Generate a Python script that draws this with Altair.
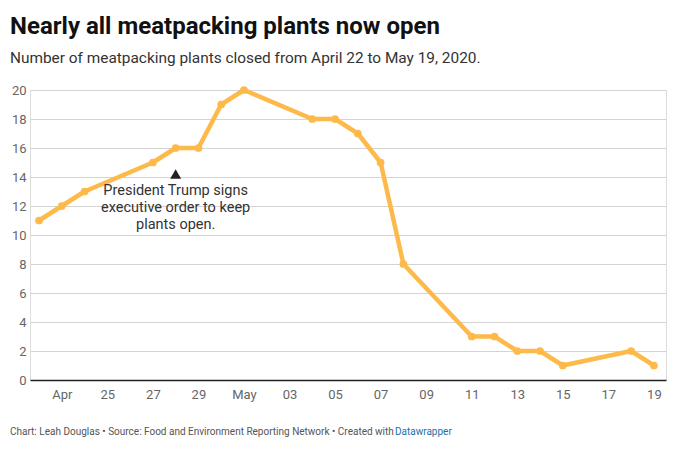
import altair as alt
import pandas as pd

# ---- data ----
dates = ["2020-04-22", "2020-04-23", "2020-04-24", "2020-04-27", "2020-04-28",
         "2020-04-29", "2020-04-30", "2020-05-01", "2020-05-04", "2020-05-05",
         "2020-05-06", "2020-05-07", "2020-05-08", "2020-05-11", "2020-05-12",
         "2020-05-13", "2020-05-14", "2020-05-15", "2020-05-18", "2020-05-19"]
closed = [11, 12, 13, 15, 16, 16, 19, 20, 18, 18, 17, 15, 8, 3, 3, 2, 2, 1, 2, 1]

tick_dates = ["2020-04-23", "2020-04-25", "2020-04-27", "2020-04-29", "2020-05-01",
              "2020-05-03", "2020-05-05", "2020-05-07", "2020-05-09", "2020-05-11",
              "2020-05-13", "2020-05-15", "2020-05-17", "2020-05-19"]
tick_labels = ["Apr", "25", "27", "29", "May", "03", "05", "07", "09", "11",
               "13", "15", "17", "19"]
y_ticks = [0, 2, 4, 6, 8, 10, 12, 14, 16, 18, 20]

annot_date = ["2020-04-28"]
annot_marker_y = [14.2]
annot_text_y = [13.5]
annot_text = ["President Trump signs\nexecutive order to keep\nplants open."]

title = "Nearly all meatpacking plants now open"
subtitle = "Number of meatpacking plants closed from April 22 to May 19, 2020."
footer_main = "Chart: Leah Douglas • Source: Food and Environment Reporting Network • Created with"
footer_link = "Datawrapper"

FONT = "Roboto"
W, H = 636, 290
LINE_COLOR = "#FDBA4B"

df = pd.DataFrame({"date": dates, "closed": closed})
ann = pd.DataFrame({"date": annot_date, "my": annot_marker_y,
                    "ty": annot_text_y, "label": annot_text})
foot = pd.DataFrame({"a": [footer_main], "b": [footer_link]})

label_map = "{" + ",".join(f"'{d}':'{l}'" for d, l in zip(tick_dates, tick_labels)) + "}"
label_expr = f"{label_map}[utcFormat(datum.value, '%Y-%m-%d')]"

x_scale = alt.Scale(
    type="utc",
    domain=[alt.DateTime(year=2020, month=4, date=21, hours=14, minutes=30, utc=True),
            alt.DateTime(year=2020, month=5, date=19, hours=12, minutes=45, utc=True)],
)
y_scale = alt.Scale(domain=[0, 20], nice=False)

x_axis = alt.Axis(
    values=[alt.DateTime(year=int(d[:4]), month=int(d[5:7]), date=int(d[8:]), utc=True)
            for d in tick_dates],
    labelExpr=label_expr, title=None, grid=False, ticks=False,
    domain=True, domainColor="#222", domainWidth=1.5,
    labelFont=FONT, labelFontSize=13, labelColor="#666", labelPadding=8,
    labelOverlap=False,
)
y_axis = alt.Axis(
    values=y_ticks, title=None, grid=True, gridColor="#d4d4d4", gridWidth=1,
    ticks=False, domain=False, labelFont=FONT, labelFontSize=13,
    labelColor="#666", labelPadding=4, labelOverlap=False,
)

base = alt.Chart(df)
line = base.mark_line(color=LINE_COLOR, strokeWidth=4.5, strokeJoin="round").encode(
    x=alt.X("date:T", scale=x_scale, axis=x_axis),
    y=alt.Y("closed:Q", scale=y_scale, axis=y_axis),
)
points = base.mark_circle(color=LINE_COLOR, size=60, opacity=1).encode(
    x=alt.X("date:T", scale=x_scale, axis=x_axis),
    y=alt.Y("closed:Q", scale=y_scale, axis=y_axis),
)

marker = alt.Chart(ann).mark_point(shape="triangle-up", filled=True, color="#222",
                                   size=120, opacity=1).encode(
    x=alt.X("date:T", scale=x_scale, axis=x_axis),
    y=alt.Y("my:Q", scale=y_scale, axis=y_axis))
note = alt.Chart(ann).mark_text(font=FONT, fontSize=14.5, color="#333", align="center",
                                baseline="top", lineBreak="\n", lineHeight=17).encode(
    x=alt.X("date:T", scale=x_scale, axis=x_axis),
    y=alt.Y("ty:Q", scale=y_scale, axis=y_axis), text="label:N")

foot_a = alt.Chart(foot).mark_text(font=FONT, fontSize=10, color="#555", align="left",
                                   baseline="middle").encode(
    x=alt.value(-20), y=alt.value(H + 52), text="a:N")
foot_b = alt.Chart(foot).mark_text(font=FONT, fontSize=10, color="#1d6fa5", align="left",
                                   baseline="middle").encode(
    x=alt.value(-20 + 385), y=alt.value(H + 52), text="b:N")

chart = alt.layer(line, points, marker, note, foot_a, foot_b).properties(
    width=W, height=H,
    autosize=alt.AutoSizeParams(type="none"),
    padding={"left": 22, "top": 82, "right": 4, "bottom": 60},
    title=alt.TitleParams(
        text=title, subtitle=subtitle, anchor="start", frame="group", dx=-20,
        font=FONT, fontSize=24, fontWeight="bold", color="#111",
        subtitleFont=FONT, subtitleFontSize=15.4, subtitleColor="#333",
        subtitlePadding=12, offset=18,
    ),
).configure_view(strokeWidth=0).configure(background="white")

chart.save("out.html", embed_options={"renderer": "svg", "actions": False})
